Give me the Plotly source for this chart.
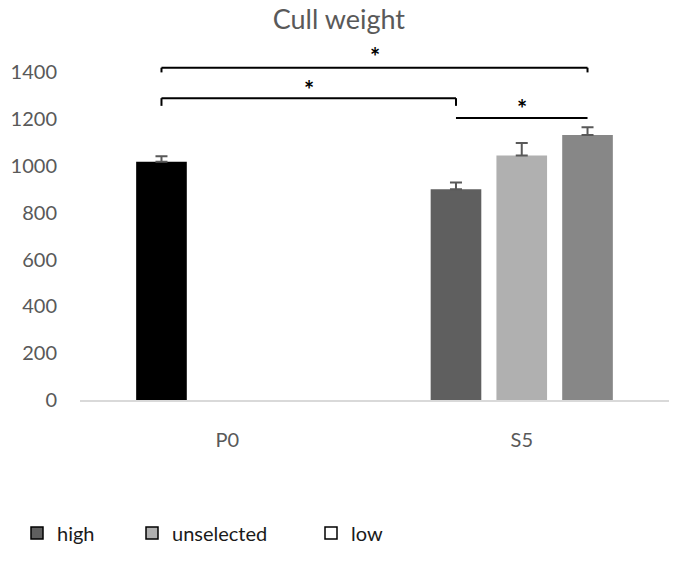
import plotly.graph_objects as go

categories = ["P0", "S5"]
series_names = ["high", "unselected", "low"]
values = {
    "high": [1018, 901],
    "unselected": [None, 1045],
    "low": [None, 1133],
}
errors = {
    "high": [24, 29],
    "unselected": [0, 53],
    "low": [0, 33],
}
bar_colors = {
    "high": ["#000000", "#5f5f5f"],
    "unselected": ["#b0b0b0", "#b0b0b0"],
    "low": ["#878787", "#878787"],
}
legend_colors = {"high": "#5f5f5f", "unselected": "#b0b0b0", "low": "#ffffff"}
y_ticks = [0, 200, 400, 600, 800, 1000, 1200, 1400]
# significance brackets: (category idx, series idx) start, end, line level, tick level, star level
brackets = [
    ((0, 0), (1, 2), 1420, 1400, 1466),
    ((0, 0), (1, 0), 1290, 1257, 1326),
    ((1, 0), (1, 2), 1205, None, 1245),
]

BARGAP = 0.33
GROUPGAP = 0.23
slot = (1 - BARGAP) / len(series_names)

def xpos(ci, si):
    return ci + (si - (len(series_names) - 1) / 2) * slot

FONT = "Lato"
GREY = "#595959"

fig = go.Figure()
for name in series_names:
    fig.add_trace(go.Bar(
        x=categories, y=values[name], name=name, offsetgroup=name,
        marker=dict(color=bar_colors[name], line=dict(width=0)),
        error_y=dict(type="data", array=errors[name], arrayminus=[0, 0],
                     symmetric=False, color="#595959", thickness=2, width=6),
        showlegend=False,
    ))

legend_ids = ["legend", "legend2", "legend3"]
for name, lid in zip(series_names, legend_ids):
    fig.add_trace(go.Bar(
        x=[None], y=[None], name=name, offsetgroup=name,
        marker=dict(color=legend_colors[name], line=dict(color="#000000", width=1.5)),
        showlegend=True, legend=lid,
    ))

shapes = []
annotations = []
for (c0, s0), (c1, s1), ly, ty, sy in brackets:
    x0, x1 = xpos(c0, s0), xpos(c1, s1)
    shapes.append(dict(type="line", xref="x", yref="y", x0=x0, x1=x1, y0=ly, y1=ly,
                       line=dict(color="#000000", width=2)))
    if ty is not None:
        for xx in (x0, x1):
            shapes.append(dict(type="line", xref="x", yref="y", x0=xx, x1=xx, y0=ly, y1=ty,
                               line=dict(color="#000000", width=2)))
    annotations.append(dict(x=(x0 + x1) / 2, y=sy, xref="x", yref="y", text="<b>*</b>",
                            showarrow=False, font=dict(family=FONT, size=24, color="#000000")))

PLOT_W = 675 - 80 - 6
leg_common = dict(orientation="h", yanchor="middle", xanchor="left", y=-0.379,
                  font=dict(family=FONT, size=20, color="#1a1a1a"),
                  bgcolor="rgba(0,0,0,0)", itemclick=False)
legend_px = [17, 132, 311]
legend_x = [(p - 80) / PLOT_W for p in legend_px]

fig.update_layout(
    width=675, height=564,
    margin=dict(l=80, r=6, t=49, b=164),
    paper_bgcolor="#ffffff", plot_bgcolor="#ffffff",
    title=dict(text="Cull weight", x=0.502, xanchor="center", xref="container", y=0.966,
               yanchor="middle", font=dict(family=FONT, size=27, color=GREY)),
    barmode="group", bargap=BARGAP, bargroupgap=GROUPGAP,
    xaxis=dict(showline=True, linecolor="#d9d9d9", linewidth=2, ticks="",
               tickfont=dict(family=FONT, size=20, color=GREY), ticklabelstandoff=21,
               showgrid=False, zeroline=False, automargin=False),
    yaxis=dict(range=[0, 1500], tickvals=y_ticks, showgrid=False, zeroline=False,
               showline=False, ticks="", ticklabelstandoff=22, automargin=False,
               tickfont=dict(family=FONT, size=20, color=GREY)),
    shapes=shapes, annotations=annotations,
    legend=dict(x=legend_x[0], **leg_common),
    legend2=dict(x=legend_x[1], **leg_common),
    legend3=dict(x=legend_x[2], **leg_common),
)

fig.write_html("out.html", config={"displayModeBar": False},
               post_script="document.body.style.margin='0';")
